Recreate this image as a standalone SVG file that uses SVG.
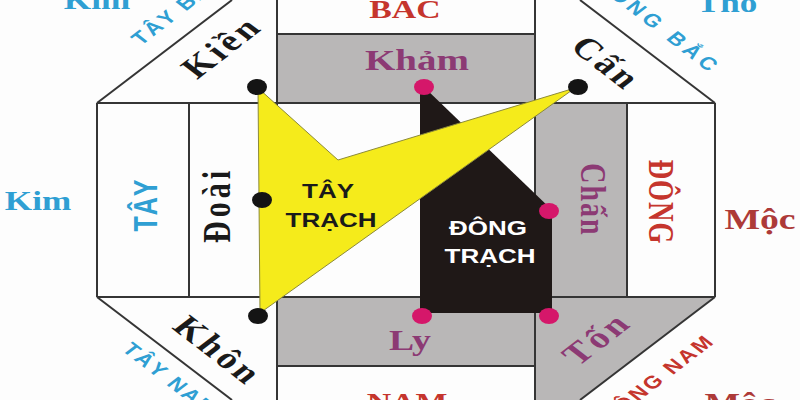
<svg xmlns="http://www.w3.org/2000/svg" width="800" height="400" viewBox="0 0 800 400">
<defs>
<style>
.ln{stroke:#353535;stroke-width:2;fill:none}
.gray{fill:#b9b7b7}
.serif{font-family:"Liberation Serif","DejaVu Serif",serif;font-weight:bold}
.sans{font-family:"Liberation Sans","DejaVu Sans",sans-serif;font-weight:bold}
.blue{fill:#2f9fd3}
.red{fill:#c5352d}
.dred{fill:#ad3a38}
.purple{fill:#8c3a74}
.blk{fill:#1a1a1a}
.bdot{fill:#141414}
.pdot{fill:#d5176a}
</style>
</defs>
<rect width="800" height="400" fill="#fdfdfd"/>
<g id="sectors">
<rect id="kham-band" class="gray" x="277" y="34" width="258" height="69"/>
<rect id="ly-band" class="gray" x="277" y="297" width="258" height="69"/>
<rect id="chan-band" class="gray" x="535" y="103" width="92" height="194"/>
<polygon id="ton-band" class="gray" points="535,297 715,297 580,400 535,400"/>
</g>
<g id="grid">
<line class="ln" x1="277" y1="0" x2="277" y2="400"/>
<line class="ln" x1="535" y1="0" x2="535" y2="400"/>
<line class="ln" x1="277" y1="34" x2="535" y2="34"/>
<line class="ln" x1="277" y1="366" x2="535" y2="366"/>
<line class="ln" x1="97" y1="103" x2="715" y2="103"/>
<line class="ln" x1="97" y1="297" x2="715" y2="297"/>
<line class="ln" x1="97" y1="103" x2="97" y2="297"/>
<line class="ln" x1="189" y1="103" x2="189" y2="297"/>
<line class="ln" x1="627" y1="103" x2="627" y2="297"/>
<line class="ln" x1="715" y1="103" x2="715" y2="297"/>
<line class="ln" x1="97" y1="103" x2="232" y2="0"/>
<line class="ln" x1="580" y1="0" x2="715" y2="103"/>
<line class="ln" x1="97" y1="297" x2="232" y2="400"/>
<line class="ln" x1="715" y1="297" x2="580" y2="400"/>
</g>
<g id="outer-labels">
<text class="serif blue" font-size="27" text-anchor="middle" transform="translate(97,9) scale(1.3,1)">Kim</text>
<text class="serif blue" font-size="27" text-anchor="middle" transform="translate(727,12) scale(1.3,1)">Thổ</text>
<text class="serif blue" font-size="27" text-anchor="middle" transform="translate(38,210) scale(1.3,1)">Kim</text>
<text class="serif dred" font-size="29" text-anchor="middle" transform="translate(760,229) scale(1.3,1)">Mộc</text>
<text class="serif dred" font-size="29" text-anchor="middle" transform="translate(740,413) scale(1.3,1)">Mộc</text>
<text class="sans blue" font-size="18" letter-spacing="2" transform="translate(141,46) scale(1.3,1) rotate(-45)">TÂY BẮC</text>
<text class="sans blue" font-size="18" letter-spacing="4" text-anchor="end" transform="translate(712,75) scale(1.3,1) rotate(45)">ĐÔNG BẮC</text>
<text class="sans blue" font-size="18" letter-spacing="2" transform="translate(121,350) scale(1.3,1) rotate(45)">TÂY NAM</text>
<text class="sans red" font-size="18" letter-spacing="2" text-anchor="end" transform="translate(716,342) scale(1.3,1) rotate(-45)">ĐÔNG NAM</text>
</g>
<g id="direction-labels">
<text class="serif red" font-size="26" text-anchor="middle" transform="translate(405,18) scale(1.3,1)">BẮC</text>
<text class="serif red" font-size="26" text-anchor="middle" transform="translate(407,411) scale(1.3,1)">NAM</text>
<text class="sans blue" font-size="25" letter-spacing="1" text-anchor="middle" transform="translate(157,205) scale(1.3,1) rotate(-90)">TÂY</text>
<text class="serif red" font-size="27" letter-spacing="1" text-anchor="middle" transform="translate(649,202) scale(1.3,1) rotate(90)">ĐÔNG</text>
</g>
<g id="dong-trach">
<polygon points="420,88 425,88 552,210 552,313 420,313" fill="#1f1817"/>
</g>
<g id="tay-trach">
<polygon points="258,88 338,160 575,88 260,313" fill="#f5eb1b" stroke="#8c8a3a" stroke-width="1"/>
</g>
<g id="trigrams">
<g id="kham"><text class="serif purple" font-size="30" text-anchor="middle" transform="translate(417,70) scale(1.3,1)">Khảm</text><ellipse class="pdot" cx="424" cy="87" rx="10" ry="8"/></g>
<g id="chan"><text class="serif purple" font-size="28" letter-spacing="2" text-anchor="middle" transform="translate(581,200) scale(1.3,1) rotate(90)">Chấn</text><ellipse class="pdot" cx="549" cy="211" rx="10" ry="8"/></g>
<g id="ly"><text class="serif purple" font-size="29" text-anchor="middle" transform="translate(410,350) scale(1.3,1)">Ly</text><ellipse class="pdot" cx="422" cy="316" rx="10" ry="8"/></g>
<g id="ton"><text class="serif purple" font-size="30" letter-spacing="3" transform="translate(578,367) scale(1.3,1) rotate(-45)">Tốn</text><ellipse class="pdot" cx="549" cy="316" rx="10" ry="8"/></g>
<g id="kien"><text class="serif blk" font-size="30" letter-spacing="3" transform="translate(197,80) scale(1.3,1) rotate(-45)">Kiền</text><ellipse class="bdot" cx="257" cy="87" rx="10" ry="8"/></g>
<g id="can"><text class="serif blk" font-size="30" letter-spacing="3" transform="translate(569,48) scale(1.3,1) rotate(45)">Cấn</text><ellipse class="bdot" cx="578" cy="87" rx="10" ry="8"/></g>
<g id="doai"><text class="serif blk" font-size="30" letter-spacing="4" text-anchor="middle" transform="translate(230,205) scale(1.3,1) rotate(-90)">Đoài</text><ellipse class="bdot" cx="262" cy="200" rx="10" ry="8"/></g>
<g id="khon"><text class="serif blk" font-size="30" letter-spacing="3" transform="translate(171,328) scale(1.3,1) rotate(45)">Khôn</text><ellipse class="bdot" cx="258" cy="316" rx="10" ry="8"/></g>
</g>
<g id="house-labels">
<text class="sans" fill="#1a1a1a" font-size="20" text-anchor="middle" transform="translate(328,198) scale(1.3,1)">TÂY</text>
<text class="sans" fill="#1a1a1a" font-size="20" text-anchor="middle" transform="translate(331,227) scale(1.3,1)">TRẠCH</text>
<text class="sans" fill="#ffffff" font-size="20" text-anchor="middle" transform="translate(488,235) scale(1.3,1)">ĐÔNG</text>
<text class="sans" fill="#ffffff" font-size="20" text-anchor="middle" transform="translate(490,263) scale(1.3,1)">TRẠCH</text>
</g>
</svg>
